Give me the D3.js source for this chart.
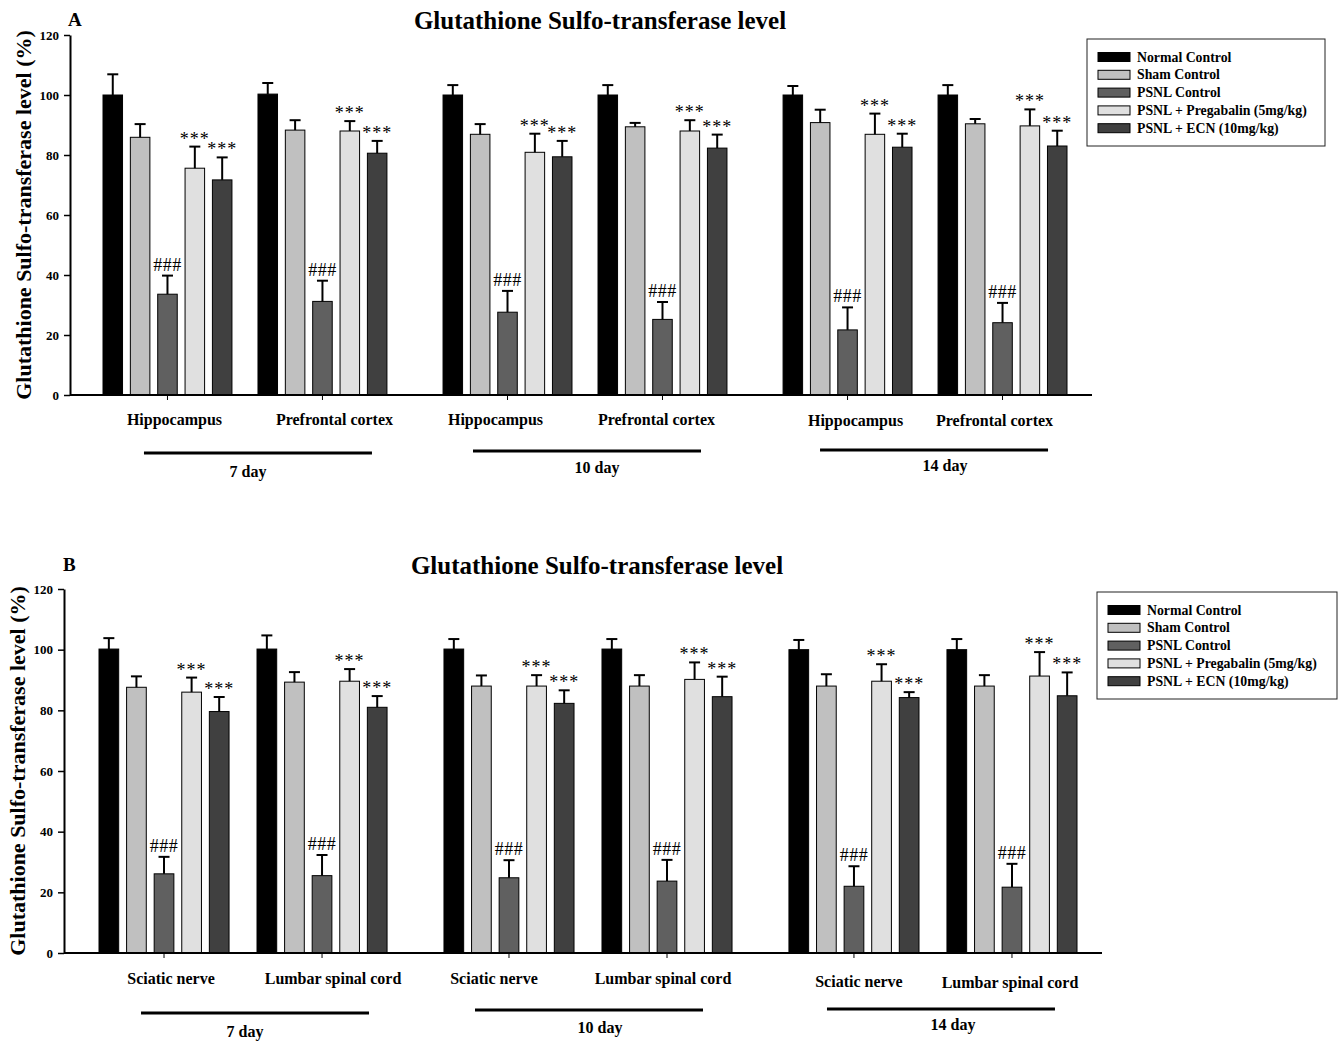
<!DOCTYPE html>
<html><head><meta charset="utf-8">
<script src="https://cdn.jsdelivr.net/npm/d3@7"></script>
<style>body{margin:0;background:#fff}</style>
</head><body>
<svg id="chart" width="1341" height="1044"></svg>
<script>
// ---------- DATA ----------
const seriesNames = ["Normal Control","Sham Control","PSNL Control","PSNL + Pregabalin (5mg/kg)","PSNL + ECN (10mg/kg)"];
const seriesColors = ["#000000","#c0c0c0","#606060","#e0e0e0","#404040"];
const seriesMarks = ["","","###","***","***"];
const days = ["7 day","10 day","14 day"];
const tissuesA = ["Hippocampus","Prefrontal cortex"];
const tissuesB = ["Sciatic nerve","Lumbar spinal cord"];
const yTicks = [0,20,40,60,80,100,120];
const titleText = "Glutathione Sulfo-transferase level";
const yLabelText = "Glutathione Sulfo-transferase level (%)";

// Panel A (order: 7d-Hippo, 7d-PFC, 10d-Hippo, 10d-PFC, 14d-Hippo, 14d-PFC)
const normalA    = [100, 100.3, 100, 100, 100, 100];
const normalAErr = [6.9, 3.7, 3.3, 3.3, 3.0, 3.3];
const shamA      = [85.9, 88.3, 86.9, 89.4, 90.8, 90.4];
const shamAErr   = [4.4, 3.3, 3.4, 1.3, 4.3, 1.6];
const psnlA      = [33.6, 31.2, 27.6, 25.2, 21.7, 24.1];
const psnlAErr   = [6.2, 6.9, 7.1, 5.8, 7.5, 6.6];
const pregA      = [75.6, 88.0, 80.9, 88.0, 86.9, 89.7];
const pregAErr   = [7.2, 3.3, 6.2, 3.6, 6.9, 5.5];
const ecnA       = [71.7, 80.6, 79.4, 82.3, 82.6, 83.0];
const ecnAErr    = [7.5, 4.1, 5.3, 4.5, 4.5, 5.1];

// Panel B (order: 7d-Sciatic, 7d-Lumbar, 10d-Sciatic, 10d-Lumbar, 14d-Sciatic, 14d-Lumbar)
const normalB    = [100.2, 100.2, 100.2, 100.2, 100, 100];
const normalBErr = [3.6, 4.5, 3.3, 3.3, 3.2, 3.5];
const shamB      = [87.6, 89.3, 88.0, 88.0, 88.0, 88.0];
const shamBErr   = [3.6, 3.3, 3.5, 3.6, 3.9, 3.6];
const psnlB      = [26.1, 25.5, 24.8, 23.7, 22.0, 21.7];
const psnlBErr   = [5.6, 6.8, 5.8, 7.0, 6.6, 7.7];
const pregB      = [86.0, 89.6, 88.0, 90.2, 89.6, 91.3];
const pregBErr   = [4.8, 4.0, 3.6, 5.6, 5.6, 7.9];
const ecnB       = [79.6, 81.0, 82.3, 84.5, 84.2, 84.8];
const ecnBErr    = [4.8, 3.7, 4.3, 6.6, 1.8, 7.7];

// ---------- DRAW ----------
const svg = d3.select("#chart");
const FONT = "'Liberation Serif','Times New Roman',serif";

function drawPanel(p) {
  const g = svg.append("g");
  const y = d3.scaleLinear().domain([0,120]).range([p.y0, p.y1]);
  const xDay = d3.scaleBand().domain(days).range([p.xStart, p.xEnd]).paddingInner(0.165).paddingOuter(0);
  const xTis = d3.scaleBand().domain(p.tissues).range([0, xDay.bandwidth()]).paddingInner(p.tisPad).paddingOuter(0);
  const xSer = d3.scaleBand().domain(seriesNames).range([0, xTis.bandwidth()]).paddingInner(0.286).paddingOuter(0);

  const rows = [];
  days.forEach((d, di) => p.tissues.forEach((t, ti) => {
    const idx = di * 2 + ti;
    seriesNames.forEach((s, si) => {
      rows.push({day: d, tissue: t, series: s, si, v: p.means[si][idx], e: p.errs[si][idx]});
    });
  }));
  const bx = r => xDay(r.day) + xTis(r.tissue) + xSer(r.series);
  const bw = xSer.bandwidth();

  // bars
  g.selectAll("rect.bar").data(rows).join("rect")
    .attr("x", bx).attr("y", r => y(r.v))
    .attr("width", bw).attr("height", r => y(0) - y(r.v))
    .attr("fill", r => seriesColors[r.si]).attr("stroke", "#000").attr("stroke-width", 1);

  // error bars
  g.selectAll("line.err").data(rows).join("line")
    .attr("x1", r => bx(r) + bw/2).attr("x2", r => bx(r) + bw/2)
    .attr("y1", r => y(r.v)).attr("y2", r => y(r.v + r.e))
    .attr("stroke", "#000").attr("stroke-width", 2);
  g.selectAll("line.cap").data(rows).join("line")
    .attr("x1", r => bx(r) + bw/2 - 5.5).attr("x2", r => bx(r) + bw/2 + 5.5)
    .attr("y1", r => y(r.v + r.e)).attr("y2", r => y(r.v + r.e))
    .attr("stroke", "#000").attr("stroke-width", 2);

  // significance marks
  g.selectAll("text.mark").data(rows.filter(r => seriesMarks[r.si])).join("text")
    .attr("x", r => bx(r) + bw/2)
    .attr("y", r => y(r.v + r.e) - (seriesMarks[r.si] === "###" ? 5 : 2))
    .attr("text-anchor", "middle")
    .attr("font-family", FONT)
    .attr("font-size", 18)
    .attr("letter-spacing", r => seriesMarks[r.si] === "###" ? 0.5 : 1)
    .attr("fill", "#000")
    .text(r => seriesMarks[r.si]);

  // y axis
  const ya = g.append("g").attr("transform", `translate(${p.xAxis},0)`)
    .call(d3.axisLeft(y).tickValues(yTicks).tickSize(6).tickSizeOuter(0).tickPadding(5));
  ya.select(".domain").attr("stroke-width", 2);
  ya.selectAll(".tick line").attr("stroke-width", 1.5);
  ya.selectAll("text").attr("font-family", FONT).attr("font-weight", "bold").attr("font-size", 13).attr("fill", "#000");

  // x axis line
  g.append("line").attr("x1", p.xAxis).attr("x2", p.xAxisEnd)
    .attr("y1", y(0)).attr("y2", y(0)).attr("stroke", "#000").attr("stroke-width", 2);
  // small ticks at group centers
  const centers = [];
  days.forEach(d => p.tissues.forEach(t => centers.push({d, t, c: xDay(d) + xTis(t) + xTis.bandwidth()/2})));
  g.selectAll("line.xt").data(centers).join("line")
    .attr("x1", c => c.c).attr("x2", c => c.c)
    .attr("y1", y(0)).attr("y2", y(0) + 5)
    .attr("stroke", "#000").attr("stroke-width", 1);
  g.selectAll("text.tis").data(centers).join("text")
    .attr("x", (c, i) => c.c + p.tisNudge[i]).attr("y", (c, i) => y(0) + p.tisDy[i])
    .attr("text-anchor", "middle").attr("font-family", FONT)
    .attr("font-weight", "bold").attr("font-size", 16).attr("fill", "#000")
    .text(c => c.t);

  // day brackets
  days.forEach((d, i) => {
    const c = xDay(d) + xDay.bandwidth()/2;
    const lc = c + p.lineNudge[i];
    g.append("line").attr("x1", lc - 114).attr("x2", lc + 114)
      .attr("y1", y(0) + p.lineDy[i]).attr("y2", y(0) + p.lineDy[i])
      .attr("stroke", "#000").attr("stroke-width", 3);
    g.append("text").attr("x", c + p.dayNudge[i]).attr("y", y(0) + p.dayDy[i])
      .attr("text-anchor", "middle").attr("font-family", FONT)
      .attr("font-weight", "bold").attr("font-size", 16).attr("fill", "#000").text(d);
  });

  // y label
  g.append("text")
    .attr("transform", `translate(${p.yLabX},${(p.y0 + p.y1)/2}) rotate(-90)`)
    .attr("text-anchor", "middle").attr("dominant-baseline", "central")
    .attr("font-family", FONT).attr("font-weight", "bold").attr("font-size", 22)
    .attr("fill", "#000").text(yLabelText);

  // title & panel letter
  g.append("text").attr("x", p.titleX).attr("y", p.titleY)
    .attr("text-anchor", "middle").attr("font-family", FONT).attr("font-weight", "bold")
    .attr("font-size", 25).attr("fill", "#000").text(titleText);
  g.append("text").attr("x", p.letterX).attr("y", p.titleY - 3)
    .attr("font-family", FONT).attr("font-weight", "bold")
    .attr("font-size", 19).attr("fill", "#000").text(p.letter);

  // legend
  const lg = g.append("g").attr("transform", `translate(${p.legX},${p.legY})`);
  lg.append("rect").attr("width", p.legW).attr("height", 107)
    .attr("fill", "#fff").attr("stroke", "#222").attr("stroke-width", 1);
  seriesNames.forEach((s, i) => {
    const ry = 18 + i * 17.8;
    lg.append("rect").attr("x", 11).attr("y", ry - 4.5).attr("width", 32).attr("height", 9)
      .attr("fill", seriesColors[i]).attr("stroke", "#000").attr("stroke-width", 1);
    lg.append("text").attr("x", 50).attr("y", ry).attr("dominant-baseline", "central")
      .attr("font-family", FONT).attr("font-weight", "bold").attr("font-size", 13.8)
      .attr("fill", "#000").text(s);
  });
}

drawPanel({
  letter: "A", tissues: tissuesA,
  means: [normalA, shamA, psnlA, pregA, ecnA],
  errs: [normalAErr, shamAErr, psnlAErr, pregAErr, ecnAErr],
  y0: 395, y1: 35, xAxis: 70, xAxisEnd: 1092,
  xStart: 103, xEnd: 1067, tisPad: 0.168,
  tisNudge: [7, 12, -12, -6, 8, -8], tisDy: [30, 30, 30, 30, 31, 31],
  lineNudge: [13, 2, 9], lineDy: [58, 56, 55],
  dayNudge: [3, 12, 20], dayDy: [82, 78, 76],
  yLabX: 23, titleX: 600, titleY: 29, letterX: 68,
  legX: 1087, legY: 39, legW: 238
});
drawPanel({
  letter: "B", tissues: tissuesB,
  means: [normalB, shamB, psnlB, pregB, ecnB],
  errs: [normalBErr, shamBErr, psnlBErr, pregBErr, ecnBErr],
  y0: 953, y1: 589, xAxis: 64, xAxisEnd: 1102,
  xStart: 99, xEnd: 1077, tisPad: 0.177,
  tisNudge: [7, 11, -15, -4, 5, -2], tisDy: [31, 31, 31, 31, 34, 35],
  lineNudge: [12, 1, 8], lineDy: [60, 57, 56],
  dayNudge: [2, 12, 20], dayDy: [84, 80, 77],
  yLabX: 17, titleX: 597, titleY: 574, letterX: 63,
  legX: 1097, legY: 592, legW: 240
});
</script>
</body></html>
